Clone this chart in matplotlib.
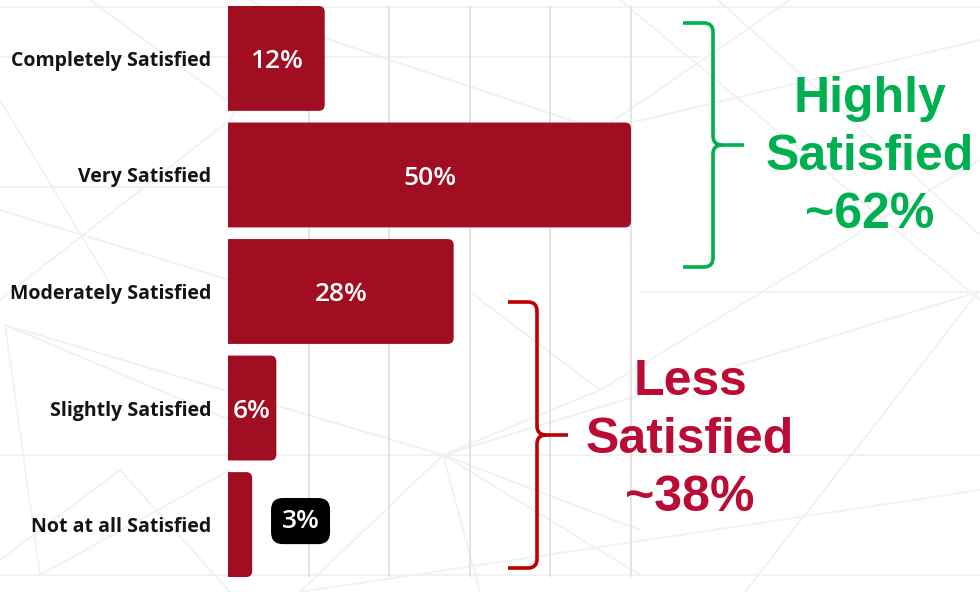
import matplotlib
matplotlib.use("Agg")
import matplotlib.pyplot as plt
from matplotlib.patches import FancyBboxPatch, PathPatch
from matplotlib.path import Path

# --- data -------------------------------------------------------------
categories = ["Completely Satisfied", "Very Satisfied", "Moderately Satisfied",
              "Slightly Satisfied", "Not at all Satisfied"]
values = [12, 50, 28, 6, 3]
value_labels = ["12%", "50%", "28%", "6%", "3%"]
group_labels = ["Highly\nSatisfied\n~62%", "Less\nSatisfied\n~38%"]
grid_ticks = [10, 20, 30, 40, 50]

BAR = "#A10E22"
GREEN = "#00B050"
RED_TEXT = "#BA0C35"
RED_BRACE = "#C00000"
LABEL_FONT = ["Open Sans", "DejaVu Sans"]
ANNOT_FONT = ["Liberation Sans", "DejaVu Sans"]

W, H = 980, 592
fig = plt.figure(figsize=(W / 100, H / 100), dpi=100)
fig.patch.set_facecolor("white")

# faint low-poly backdrop (pixel coordinates)
bg = fig.add_axes([0, 0, 1, 1], zorder=-5)
bg.set_xlim(0, W)
bg.set_ylim(H, 0)
bg.axis("off")
bg_segments = [
    ((0, 7), (980, 7)), ((0, 57), (700, 57)), ((0, 187), (240, 187)),
    ((640, 292), (980, 292)), ((0, 455), (980, 455)), ((0, 575), (980, 575)),
    ((90, 0), (230, 103)), ((0, 100), (120, 300)), ((0, 210), (230, 280)),
    ((443, 455), (978, 292)), ((443, 455), (5, 325)), ((443, 455), (300, 592)),
    ((443, 455), (480, 592)), ((443, 455), (640, 530)), ((443, 455), (640, 575)),
    ((443, 455), (600, 390)), ((978, 292), (745, 592)), ((300, 592), (980, 490)),
    ((718, 0), (980, 235)), ((790, 0), (600, 130)), ((620, 0), (980, 300)),
    ((5, 325), (40, 575)), ((5, 325), (230, 420)), ((120, 470), (0, 560)),
    ((40, 575), (230, 470)), ((250, 0), (330, 40)), ((330, 40), (600, 130)),
    ((600, 130), (980, 40)), ((300, 0), (230, 120)), ((230, 120), (0, 300)),
    ((600, 390), (980, 160)), ((600, 390), (470, 292)), ((120, 470), (230, 592)),
]
for (x0, y0), (x1, y1) in bg_segments:
    bg.plot([x0, x1], [y0, y1], color="#F1F1F1", lw=1.3, solid_capstyle="round")

# --- bar chart ---------------------------------------------------------
ax = fig.add_axes([228 / W, (H - 577) / H, 1 - 228 / W, 571 / H], zorder=1)
ax.patch.set_alpha(0)
xmax = (W - 228) / 8.06
ax.set_xlim(0, xmax)
ax.set_ylim(len(categories) - 0.55, -0.45)
for s in ax.spines.values():
    s.set_visible(False)

ypos = list(range(len(categories)))
bars = ax.barh(ypos, values, height=0.9, color=BAR)

# swap plain rectangles for right-rounded ones (left edge hidden behind the axis)
px_per_x = ax.bbox.width / xmax
px_per_y = ax.bbox.height / (len(categories) - 0.1)
radius_px = 6
rx = radius_px / px_per_x
aspect = (radius_px / px_per_y) / rx
for rect in bars.patches:
    x0, y0 = rect.get_x(), rect.get_y()
    w, h = rect.get_width(), rect.get_height()
    rect.set_visible(False)
    fb = FancyBboxPatch((x0 - 2, y0), w + 2, h,
                        boxstyle=f"round,pad=0,rounding_size={rx}",
                        mutation_aspect=aspect, facecolor=BAR,
                        edgecolor="none", zorder=2)
    ax.add_patch(fb)

ax.set_xticks(grid_ticks)
ax.set_xticklabels([])
ax.tick_params(axis="x", length=0)
ax.grid(axis="x", color="#DCDCDC", lw=1.1, zorder=0)
ax.set_axisbelow(True)

ax.set_yticks(ypos)
ax.set_yticklabels(categories, fontsize=14, fontweight="bold",
                   family=LABEL_FONT, color="#141414")
ax.tick_params(axis="y", length=0, pad=12)

for yv, v, lab in zip(ypos, values, value_labels):
    if v >= 5:
        ax.text(v / 2, yv + 0.03, lab, ha="center", va="center", color="white",
                fontsize=19, fontweight="semibold", family=LABEL_FONT, zorder=3)
    else:
        ax.text(v + 6, yv - 0.03, lab, ha="center", va="center", color="white",
                fontsize=19, fontweight="semibold", family=LABEL_FONT, zorder=3,
                bbox=dict(boxstyle="round,pad=0.4,rounding_size=0.45",
                          fc="black", ec="none"))

# --- group braces and captions (pixel coordinates) ---------------------
ov = fig.add_axes([0, 0, 1, 1], zorder=3)
ov.set_xlim(0, W)
ov.set_ylim(H, 0)
ov.axis("off")
ov.patch.set_alpha(0)


def brace(axis, x_left, x_stem, x_tip, y_top, y_bot, color, r=9):
    y_mid = (y_top + y_bot) / 2
    verts = [
        (x_left, y_top), (x_stem - r, y_top),
        (x_stem, y_top), (x_stem, y_top + r),
        (x_stem, y_mid - r),
        (x_stem, y_mid), (x_stem + r, y_mid),
        (x_tip, y_mid),
        (x_stem + r, y_mid),
        (x_stem, y_mid), (x_stem, y_mid + r),
        (x_stem, y_bot - r),
        (x_stem, y_bot), (x_stem - r, y_bot),
        (x_left, y_bot),
    ]
    codes = [Path.MOVETO, Path.LINETO,
             Path.CURVE3, Path.CURVE3,
             Path.LINETO,
             Path.CURVE3, Path.CURVE3,
             Path.LINETO,
             Path.MOVETO,
             Path.CURVE3, Path.CURVE3,
             Path.LINETO,
             Path.CURVE3, Path.CURVE3,
             Path.LINETO]
    axis.add_patch(PathPatch(Path(verts, codes), fill=False, ec=color,
                             lw=2.6, capstyle="butt", joinstyle="round"))


brace(ov, 683, 713, 744, 23, 267, GREEN)
brace(ov, 508, 537, 568, 302, 568, RED_BRACE)

ov.text(870, 157, group_labels[0], ha="center", va="center", color=GREEN,
        fontsize=36, fontweight="bold", family=ANNOT_FONT, linespacing=1.34,
        multialignment="center")
ov.text(690, 440, group_labels[1], ha="center", va="center", color=RED_TEXT,
        fontsize=36, fontweight="bold", family=ANNOT_FONT, linespacing=1.34,
        multialignment="center")

fig.savefig("out.png", dpi=100, facecolor="white")
